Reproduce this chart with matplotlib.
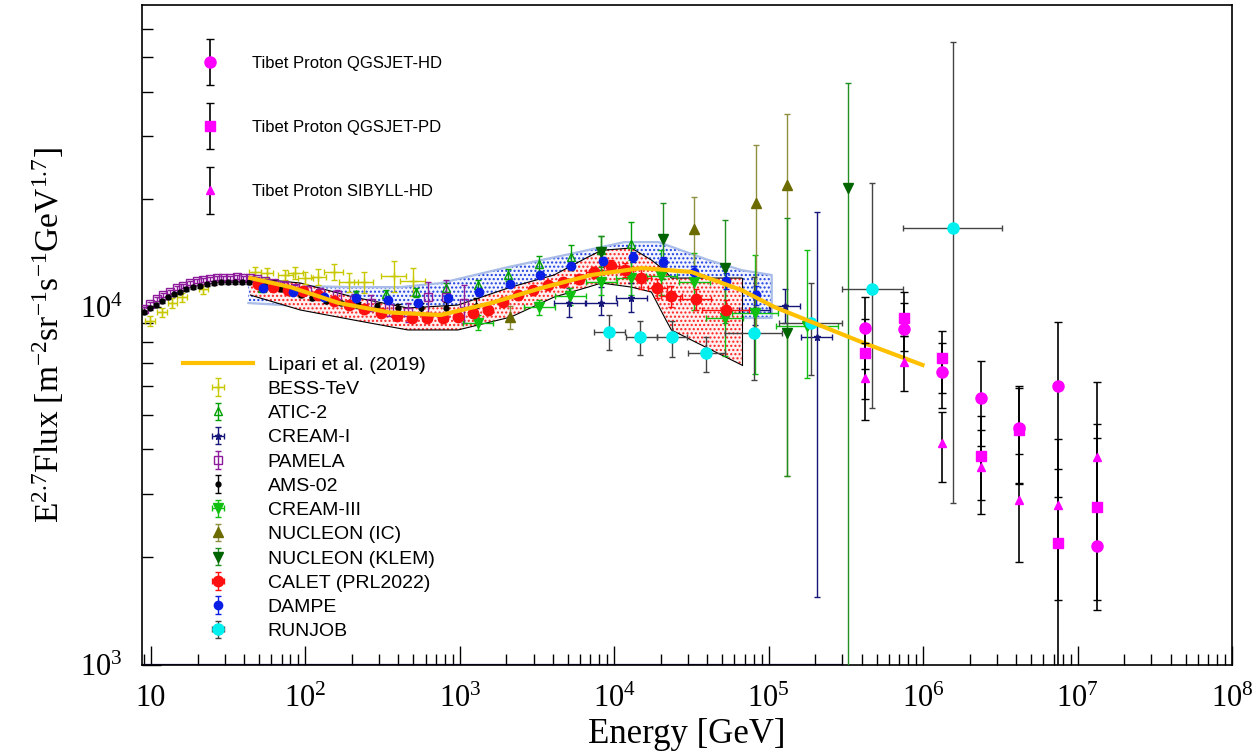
import numpy as np
import matplotlib.pyplot as plt
from matplotlib.legend_handler import HandlerErrorbar
from matplotlib.ticker import FixedLocator, FuncFormatter, NullFormatter

plt.rcParams["font.family"] = ["Liberation Serif", "DejaVu Serif"]
plt.rcParams["mathtext.fontset"] = "stix"
plt.rcParams["hatch.linewidth"] = 1.0

# ---- values: E [GeV], E^2.7 x flux ----
lipari_e = [44, 80, 165, 350, 750, 1590, 3360, 7090, 15000, 31600, 66800, 109000, 190000, 400000, 990000]
lipari_f = [12050, 11370, 10260, 9660, 9500, 10260, 11300, 12290, 12850, 12530, 11150, 10000, 9080, 7980, 6890]

# DAMPE systematic band (blue dots)
dband_e = [42.7, 92.9, 196, 414, 753, 2050, 5500, 11600, 19300, 40700, 66800, 104600]
dband_hi = [11520, 11450, 11370, 11370, 11670, 12930, 14150, 15190, 15190, 13530, 12680, 12290]
dband_lo = [10260, 10065, 9680, 9320, 9320, 10130, 11370, 12370, 11740, 10460, 9320, 9320]

# CALET systematic band (red dots, black outline)
cband_e = [44.0, 92.9, 205, 460, 971, 2140, 4070, 6770, 8240, 12900, 17400, 21100, 23400, 36700, 66800]
cband_hi = [12050, 11670, 10660, 9940, 10130, 11370, 12290, 13800, 14400, 14620, 13530, 12680, 12050, 12050, 12050]
cband_lo = [10800, 9810, 9200, 8630, 8630, 9380, 10660, 11370, 11670, 11370, 11010, 9380, 8630, 7830, 6890]

bess_e = [9.85, 11.8, 13.7, 15.9, 21.8, 47.3, 56.6, 74.1, 86.1, 100, 121, 152, 190, 238, 372, 495]
bess_f = [9140, 9680, 10260, 10660, 11230, 12530, 12450, 12290, 12450, 12050, 12130, 12530, 11740, 11740, 12210, 11820]
bess_err = [0.03, 0.03, 0.03, 0.03, 0.03, 0.03, 0.03, 0.03, 0.04, 0.04, 0.05, 0.05, 0.06, 0.07, 0.10, 0.09]
bess_dex = [0.03, 0.03, 0.03, 0.03, 0.03, 0.04, 0.04, 0.05, 0.05, 0.05, 0.05, 0.06, 0.06, 0.06, 0.08, 0.08]

atic_e = [52.6, 82.4, 129, 211, 330, 518, 811, 1310, 2050, 3260, 5260, 8240, 12900]
atic_f = [11300, 11080, 10730, 10870, 10870, 11010, 11300, 11520, 12290, 13190, 13800, 14400, 15000]
atic_err = [0.02, 0.02, 0.02, 0.02, 0.025, 0.03, 0.03, 0.035, 0.04, 0.05, 0.08, 0.10, 0.15]

cream1_e = [5100, 8240, 12900, 81100, 127000, 205000]
cream1_f = [10260, 10260, 10590, 9810, 10065, 8250]
cream1_lo = [9380, 9500, 9680, 8900, 9000, 1550]
cream1_hi = [11300, 11370, 11670, 10800, 11200, 18420]
cream1_dex = [0.1, 0.1, 0.1, 0.1, 0.1, 0.1]
cream1_floor_e = [8.74, 300000]

pamela_e = [9.0, 9.85, 10.9, 12.0, 13.3, 14.7, 16.1, 17.9, 19.9, 21.8, 24.2, 26.8, 29.3, 32.6, 36.1, 39.5,
            44.0, 48.7, 55.0, 62.9, 73.1, 86.1, 103, 125, 161, 205, 264, 346, 460, 620, 811, 1062]
pamela_f = [9870, 10200, 10530, 10800, 11010, 11300, 11450, 11670, 11820, 11890, 11970, 12050, 12050, 12050, 12130, 12050,
            12050, 11970, 11820, 11670, 11520, 11300, 11160, 10940, 10800, 10460, 10260, 9940, 9680, 10660, 10660, 10260]
pamela_err = [0.015, 0.015, 0.015, 0.015, 0.015, 0.015, 0.015, 0.015, 0.015, 0.015, 0.015, 0.015, 0.015, 0.015, 0.015, 0.015,
              0.015, 0.015, 0.015, 0.015, 0.02, 0.02, 0.025, 0.03, 0.03, 0.04, 0.05, 0.05, 0.06, 0.10, 0.12, 0.12]

ams_e = [9.0, 9.85, 10.8, 11.8, 12.9, 14.1, 15.4, 16.9, 18.7, 20.8, 23.1, 25.7, 28.5, 31.6, 35.1, 39.0,
         43.3, 48.1, 54.2, 61.1, 69.9, 80.0, 92.9, 111, 135, 169, 218, 289, 396, 558, 811, 1270]
ams_f = [9680, 9940, 10130, 10390, 10660, 10870, 11010, 11230, 11370, 11450, 11590, 11670, 11740, 11740, 11740, 11740,
         11740, 11670, 11520, 11370, 11230, 11010, 10800, 10590, 10390, 10260, 10130, 10065, 9940, 9940, 9940, 10065]
ams_err = [0.01, 0.01, 0.01, 0.01, 0.01, 0.01, 0.01, 0.01, 0.01, 0.01, 0.01, 0.01, 0.01, 0.01, 0.01, 0.01,
           0.01, 0.01, 0.01, 0.01, 0.01, 0.01, 0.01, 0.01, 0.01, 0.015, 0.02, 0.02, 0.025, 0.03, 0.04, 0.05]

cream3_e = [1310, 3260, 5180, 8240, 12900, 20200, 33000, 51800, 81100, 176600]
cream3_f = [9020, 10000, 10730, 11740, 12050, 12210, 11740, 9320, 9620, 8850]
cream3_lo = [8630, 9500, 10130, 10800, 10800, 10800, 9800, 7300, 6500, 6330]
cream3_hi = [9500, 10460, 11300, 12680, 13530, 14400, 14200, 12000, 14000, 14420]
cream3_dex = [0.1, 0.1, 0.1, 0.1, 0.1, 0.1, 0.1, 0.12, 0.15, 0.2]

nuc_ic_e = [2110, 33000, 82300, 131000]
nuc_ic_f = [9380, 16510, 19530, 21900]
nuc_ic_lo = [8700, 11890, 8630, 3370]
nuc_ic_hi = [10100, 20300, 28340, 34600]

nuc_klem_e = [8240, 20800, 51800, 131000, 326000]
nuc_klem_f = [14240, 15490, 12850, 8460, 21500]
nuc_klem_lo = [12700, 12000, 9000, 3370, 500]
nuc_klem_hi = [15800, 19500, 17500, 17730, 42200]

calet_e = [49.5, 62, 77.6, 97, 121, 152, 190, 238, 307, 390, 488, 611, 776, 971, 1215,
           1520, 1900, 2380, 2980, 3730, 4670, 5930, 7410, 9570, 11800, 15000, 19000, 23400, 33600, 52600]
calet_f = [11590, 11370, 11160, 11080, 10800, 10390, 10130, 9870, 9620, 9440, 9320, 9320, 9320, 9380, 9620,
           9810, 10330, 10800, 11160, 11520, 11740, 11970, 12530, 13020, 12680, 12050, 11300, 10730, 10530, 9810]
calet_err = [0.01, 0.01, 0.01, 0.01, 0.01, 0.01, 0.01, 0.01, 0.012, 0.012, 0.012, 0.015, 0.015, 0.015, 0.02,
             0.02, 0.02, 0.02, 0.025, 0.025, 0.03, 0.03, 0.035, 0.04, 0.045, 0.07, 0.06, 0.065, 0.07, 0.07]
calet_dex = [0, 0, 0, 0, 0, 0, 0, 0, 0, 0, 0, 0, 0, 0, 0,
             0, 0, 0, 0, 0, 0, 0, 0.05, 0.05, 0.05, 0.06, 0.06, 0.07, 0.1, 0.15]

dampe_e = [53.4, 83.6, 131, 211, 340, 533, 835, 1330, 2110, 3300, 5260, 8490, 13300, 20800, 33000, 52600, 82300]
dampe_f = [11300, 11010, 10700, 10590, 10460, 10260, 10590, 11010, 11590, 12290, 13040, 13440, 13800, 13370, 12530, 11820, 10800]
dampe_err = [0.01, 0.01, 0.01, 0.01, 0.01, 0.01, 0.012, 0.015, 0.015, 0.02, 0.02, 0.025, 0.03, 0.035, 0.04, 0.05, 0.06]

runjob_e = [9280, 14760, 23800, 39000, 80000, 187500, 466000, 1570000]
runjob_f = [8520, 8250, 8250, 7440, 8460, 9020, 11220, 16630]
runjob_lo = [7590, 7340, 7250, 6590, 6250, 6460, 5220, 2835]
runjob_hi = [9500, 9140, 9140, 8250, 12130, 11670, 22200, 55000]
runjob_elo = [7410, 11960, 19000, 29800, 51800, 116000, 298000, 741000]
runjob_ehi = [11800, 19000, 29400, 51800, 121500, 298000, 741000, 3260000]

tibet_e = [420000, 750000, 1330000, 2370000, 4200000, 7500000, 13300000]
tibet_hd = [8740, 8680, 6580, 5570, 4590, 6020, 2150]
tibet_hd_lo = [6710, 7540, 5220, 4090, 3225, 2945, 1424]
tibet_hd_hi = [10660, 10260, 7930, 7065, 6020, 9080, 4305]
tibet_pd = [7440, 9320, 7200, 3835, 4530, 2190, 2760]
tibet_pd_lo = [5530, 8300, 5750, 2890, 3210, 900, 1520]
tibet_pd_hi = [9260, 11010, 8570, 4960, 5940, 4280, 4710]
tibet_sib = [6330, 7020, 4170, 3573, 2890, 2800, 3810]
tibet_sib_lo = [4835, 5825, 3245, 2640, 1940, 1520, 2165]
tibet_sib_hi = [7930, 8300, 5090, 4530, 3885, 3527, 6170]

x_major = [1e1, 1e2, 1e3, 1e4, 1e5, 1e6, 1e7, 1e8]
y_major = [1e3, 1e4]


def around(v, lo, hi):
    v = np.asarray(v, float)
    return [v - np.asarray(lo, float), np.asarray(hi, float) - v]


def rel(v, err):
    return np.asarray(v, float) * np.asarray(err, float)


def dex(e, d):
    e, d = np.asarray(e, float), np.asarray(d, float)
    return [e - e / 10**d, e * 10**d - e]


def minors(lo_exp, hi_exp):
    return [m * 10.0**k for k in range(lo_exp, hi_exp) for m in range(2, 10)]


fig = plt.figure(figsize=(12.54, 7.56), dpi=100)
ax = fig.add_axes([142 / 1254, 91 / 756, 1090 / 1254, 660 / 756])
ax.set_xscale("log")
ax.set_yscale("log")
ax.set_xlim(8.74, 1e8)
ax.set_ylim(1000, 69800)

# bands
ax.fill_between(dband_e, dband_lo, dband_hi, facecolor="#f2f5ff", edgecolor="#1f3fe0",
                hatch="....", linewidth=0, zorder=1)
ax.plot(dband_e + dband_e[::-1], dband_hi + dband_lo[::-1], color="#a9bde8", lw=1.6, zorder=1)
ax.fill_between(cband_e, cband_lo, cband_hi, facecolor="#fff0f0", edgecolor="#ff2020",
                hatch="....", linewidth=0, zorder=1.5)
ax.plot(cband_e, cband_hi, color="k", lw=0.8, zorder=1.6)
ax.plot(cband_e, cband_lo, color="k", lw=0.8, zorder=1.6)
ax.plot([cband_e[-1], cband_e[-1]], [cband_lo[-1], cband_hi[-1]], color="k", lw=0.8, zorder=1.6)

ax.plot(cream1_floor_e, [1000, 1000], color="#1a1a80", lw=1.6, zorder=2)

eb = dict(capsize=2.5, elinewidth=1.0, capthick=1.0, linestyle="none", zorder=3)
h_bess = ax.errorbar(bess_e, bess_f, yerr=rel(bess_f, bess_err), xerr=dex(bess_e, bess_dex),
                     fmt="+", color="#c8c800", ms=6, label="BESS-TeV", **eb)
h_atic = ax.errorbar(atic_e, atic_f, yerr=rel(atic_f, atic_err), fmt="^", color="#00a000",
                     mfc="none", ms=6, label="ATIC-2", **eb)
h_cream1 = ax.errorbar(cream1_e, cream1_f, yerr=around(cream1_f, cream1_lo, cream1_hi),
                       xerr=dex(cream1_e, cream1_dex), fmt="*", color="#15157a", ms=5,
                       label="CREAM-I", **eb)
h_pamela = ax.errorbar(pamela_e, pamela_f, yerr=rel(pamela_f, pamela_err), fmt="s",
                       color="#8e1a9c", mfc="none", ms=6, label="PAMELA", **eb)
h_ams = ax.errorbar(ams_e, ams_f, yerr=rel(ams_f, ams_err), fmt="o", color="k", ms=3.5,
                    label="AMS-02", **eb)
h_cream3 = ax.errorbar(cream3_e, cream3_f, yerr=around(cream3_f, cream3_lo, cream3_hi),
                       xerr=dex(cream3_e, cream3_dex), fmt="v", color="#10c010", ms=7,
                       label="CREAM-III", **eb)
h_ic = ax.errorbar(nuc_ic_e, nuc_ic_f, yerr=around(nuc_ic_f, nuc_ic_lo, nuc_ic_hi), fmt="^",
                   color="#6b6b00", ecolor="#8f8f40", ms=7, label="NUCLEON (IC)", **eb)
h_klem = ax.errorbar(nuc_klem_e, nuc_klem_f, yerr=around(nuc_klem_f, nuc_klem_lo, nuc_klem_hi),
                     fmt="v", color="#006400", ecolor="#1f8f1f", ms=7, label="NUCLEON (KLEM)", **eb)
h_calet = ax.errorbar(calet_e, calet_f, yerr=rel(calet_f, calet_err), xerr=dex(calet_e, calet_dex),
                      fmt="o", color="#ff1010", ms=7.5, label="CALET (PRL2022)", **eb)
h_dampe = ax.errorbar(dampe_e, dampe_f, yerr=rel(dampe_f, dampe_err), fmt="o", color="#0a1ee6",
                      ms=6, label="DAMPE", **eb)
h_runjob = ax.errorbar(runjob_e, runjob_f, yerr=around(runjob_f, runjob_lo, runjob_hi),
                       xerr=[np.subtract(runjob_e, runjob_elo), np.subtract(runjob_ehi, runjob_e)],
                       fmt="o", color="#00f0f0", ecolor="#444444", ms=8, label="RUNJOB", **eb)
h_lip, = ax.plot(lipari_e, lipari_f, color="#ffc000", lw=3, zorder=3.5, label="Lipari et al. (2019)")

tb = dict(capsize=3, elinewidth=1.2, capthick=1.0, linestyle="none", ecolor="k", zorder=4)
h_hd = ax.errorbar(tibet_e, tibet_hd, yerr=around(tibet_hd, tibet_hd_lo, tibet_hd_hi), fmt="o",
                   color="#ff00ff", ms=8, label="Tibet Proton QGSJET-HD", **tb)
h_pd = ax.errorbar(tibet_e, tibet_pd, yerr=around(tibet_pd, tibet_pd_lo, tibet_pd_hi), fmt="s",
                   color="#ff00ff", ms=7, label="Tibet Proton QGSJET-PD", **tb)
h_sib = ax.errorbar(tibet_e, tibet_sib, yerr=around(tibet_sib, tibet_sib_lo, tibet_sib_hi), fmt="^",
                    color="#ff00ff", ms=6, label="Tibet Proton SIBYLL-HD", **tb)

# axes, ROOT-like
for s in ax.spines.values():
    s.set_linewidth(1.2)
ax.xaxis.set_major_locator(FixedLocator(x_major))
ax.xaxis.set_minor_locator(FixedLocator([v for v in minors(0, 8) if v > 8.74]))
ax.yaxis.set_major_locator(FixedLocator(y_major))
ax.yaxis.set_minor_locator(FixedLocator([v for v in minors(3, 5) if v < 69800]))
ax.xaxis.set_minor_formatter(NullFormatter())
ax.yaxis.set_minor_formatter(NullFormatter())
ax.xaxis.set_major_formatter(FuncFormatter(
    lambda v, p: "10" if round(np.log10(v)) == 1 else r"$\mathregular{10^{%d}}$" % round(np.log10(v))))
ax.yaxis.set_major_formatter(FuncFormatter(lambda v, p: r"$\mathregular{10^{%d}}$" % round(np.log10(v))))
ax.tick_params(which="both", direction="in", top=False, right=False, labelsize=22, pad=14)
ax.tick_params(which="major", length=14, width=1.0)
ax.tick_params(which="minor", length=8, width=1.0)
ax.set_xlabel("Energy [GeV]", fontsize=25, labelpad=3)
ax.set_ylabel(r"$\mathregular{E^{2.7}Flux\ [m^{-2}sr^{-1}s^{-1}GeV^{1.7}]}$", fontsize=24, labelpad=10)

leg1 = ax.legend(handles=[h_hd, h_pd, h_sib], loc="upper left", bbox_to_anchor=(0.047, 0.923),
                 frameon=False, prop={"family": "Liberation Sans", "size": 12},
                 handlelength=2.0, handletextpad=1.5, labelspacing=2.95, borderpad=0, borderaxespad=0,
                 handler_map={type(h_hd): HandlerErrorbar(xerr_size=0.3, yerr_size=1.4)})
ax.add_artist(leg1)
ax.legend(handles=[h_lip, h_bess, h_atic, h_cream1, h_pamela, h_ams, h_cream3, h_ic, h_klem,
                   h_calet, h_dampe, h_runjob],
          loc="upper left", bbox_to_anchor=(0.0376, 0.468), frameon=False,
          prop={"family": "Liberation Sans", "size": 14}, handlelength=3.6, handletextpad=0.75,
          labelspacing=0.34, borderpad=0, borderaxespad=0,
          handler_map={type(h_hd): HandlerErrorbar(xerr_size=0.3, yerr_size=0.45)})

fig.savefig("out.png", dpi=100)
